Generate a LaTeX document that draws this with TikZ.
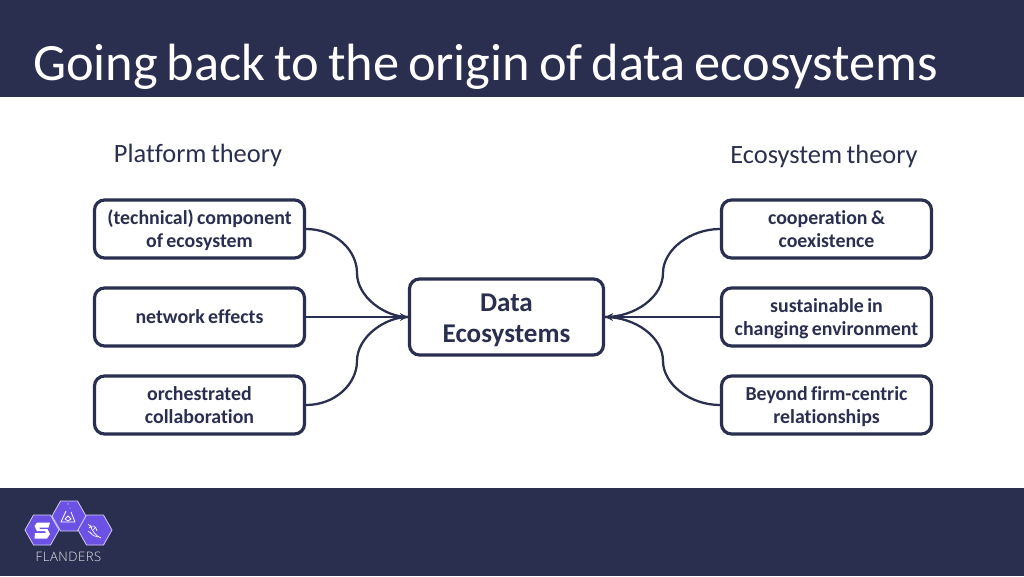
\documentclass[tikz,border=0pt]{standalone}
\usepackage{fontspec}
\setmainfont[Ligatures={NoCommon},WordSpace=0.75]{Carlito}
\newfontfamily\logofont[LetterSpace=4]{Open Sans Light}
\definecolor{navy}{HTML}{2A2E4F}
\definecolor{hexpurple}{HTML}{6C52E4}
\definecolor{ink}{HTML}{2A2E4F}
\usetikzlibrary{arrows.meta}
\newcommand\lowered[2]{\raisebox{-#1}[\height][\depth]{\begin{tabular}{@{}c@{}}#2\end{tabular}}}
\newcommand\bl[1]{\lowered{1.75pt}{#1}}
\newcommand\hl[1]{\lowered{3pt}{#1}}
\tikzset{
  x=0.75pt,y=-0.75pt,
  box/.style={draw=navy,line width=2.4pt,rounded corners=7.5pt,fill=white,minimum width=210*0.75pt,minimum height=58*0.75pt,inner sep=0pt,text=ink,font=\fontsize{14.9pt}{17.3pt}\selectfont\bfseries},
  hub/.style={box,minimum width=194*0.75pt,minimum height=76*0.75pt,font=\fontsize{20.3pt}{23.2pt}\selectfont\bfseries},
  link/.style={draw=navy,line width=1.7pt},
  tip/.style={-{Stealth[length=6pt,width=6pt]}},
  heading/.style={text=ink,font=\fontsize{19.8pt}{22pt}\selectfont,inner sep=0pt},
  hexcell/.style={fill=hexpurple,draw=white!70!hexpurple,line width=.6pt,line join=round},
  glyph/.style={draw=white,line width=.6pt,line join=round}
}
\begin{document}
\begin{tikzpicture}
\useasboundingbox (0,0) rectangle (1024,576);
\fill[navy] (0,0) rectangle (1024,97);
\fill[navy] (0,488) rectangle (1024,576);
\node[anchor=west,text=white,inner sep=0pt,font=\fontsize{39.3pt}{42pt}\selectfont] (title) at (33,67) {Going back to the origin of data ecosystems};
\node[heading] (ph) at (198,155) {Platform theory};
\node[heading] (eh) at (824,156) {Ecosystem theory};
\node[box] (l1) at (199.5,229) {\bl{(technical) component\\of ecosystem}};
\node[box] (l2) at (199.5,317) {\bl{network effects}};
\node[box] (l3) at (199.5,405) {\bl{orchestrated\\collaboration}};
\node[box] (r1) at (826.5,229) {\bl{cooperation \&\\coexistence}};
\node[box] (r2) at (826.5,317) {\bl{sustainable in\\changing environment}};
\node[box] (r3) at (826.5,405) {\bl{Beyond firm-centric\\relationships}};
\node[hub] (hub) at (506.5,317) {\hl{Data\\Ecosystems}};
\coordinate (lm1) at (357,273);
\coordinate (lm3) at (357,361);
\coordinate (rm1) at (663,273);
\coordinate (rm3) at (663,361);
\draw[link] (l1.east) .. controls (335,229) and (357,250) .. (lm1) .. controls (357,297) and (385,317) .. (hub.west);
\draw[link] (l3.east) .. controls (335,405) and (357,384) .. (lm3) .. controls (357,337) and (385,317) .. (hub.west);
\draw[link,tip] (l2.east) -- (hub.west);
\draw[link] (r1.west) .. controls (690,229) and (663,250) .. (rm1) .. controls (663,297) and (635,317) .. (hub.east);
\draw[link] (r3.west) .. controls (690,405) and (663,384) .. (rm3) .. controls (663,337) and (635,317) .. (hub.east);
\draw[link,tip] (r2.west) -- (hub.east);
% logo
\foreach \n/\cx/\cy in {a/42/530,b/69/516,c/95/530}{
  \draw[hexcell] (\cx+17,\cy) -- (\cx+8.5,\cy-15) -- (\cx-8.5,\cy-15) -- (\cx-17,\cy) -- (\cx-8.5,\cy+15) -- (\cx+8.5,\cy+15) -- cycle;
}
% S
\fill[white] (50,522.5) -- (37,522.5) -- (34.5,526) -- (37,531) -- (45,531) -- (46,533) -- (35,533) -- (34.5,538.5) -- (47,538.5) -- (50,534) -- (47.5,529) -- (40,529) -- (39,527.5) -- (48.5,527.5) -- cycle;
% flask
\draw[glyph] (66,511) -- (61,522) -- (75,522) -- (71,512);
\draw[glyph] (68,516) -- (65,519) -- (68,521) -- (71,519) -- cycle;
\fill[white] (68,504) circle (.6) (70,508) circle (.5);
% leaf
\draw[glyph,line width=.5pt] (90,525) .. controls (92,531) and (96,536) .. (101,538);
\draw[glyph,line width=.5pt] (89,528) .. controls (92,524) and (96,526) .. (97,531);
\draw[glyph,line width=.5pt] (90,532) .. controls (92,535) and (95,537) .. (98,537);
\draw[glyph,line width=.4pt] (88,524) -- (92,528) (88,531) -- (92,534) (93,530) -- (96,527);
\node[text=white!88!navy,inner sep=0pt,font=\logofont\fontsize{9.8pt}{11pt}\selectfont] (logo) at (68.5,557) {FLANDERS};
\end{tikzpicture}
\end{document}
